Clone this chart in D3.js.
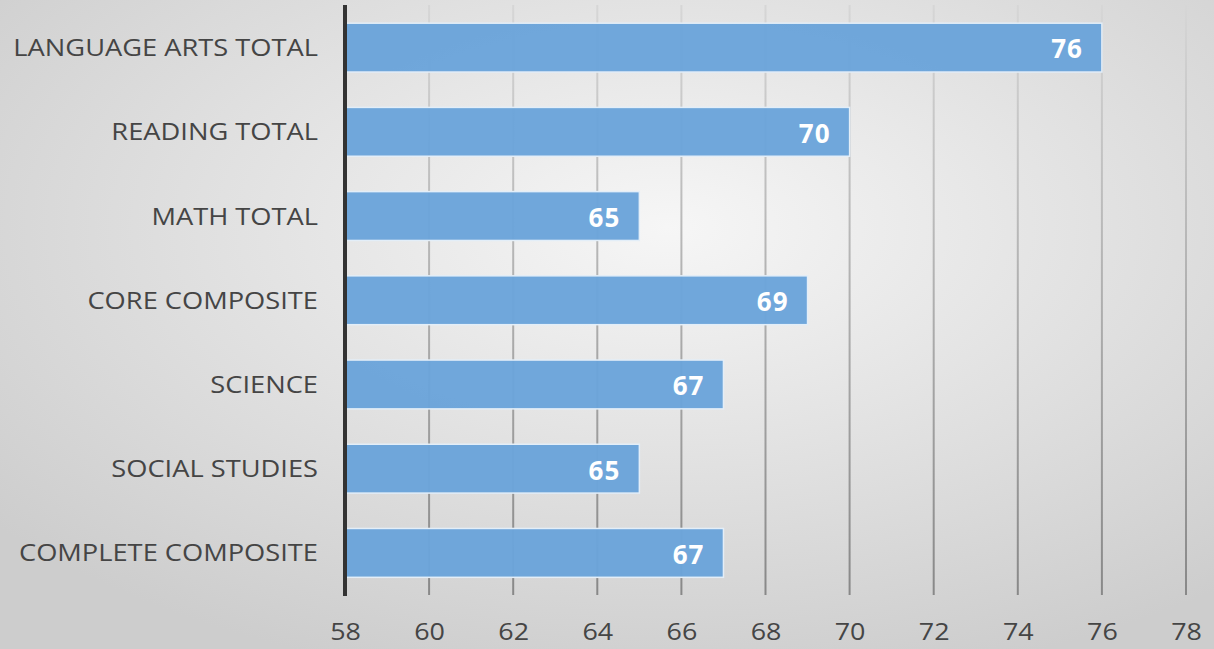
<!DOCTYPE html>
<html><head><meta charset="utf-8">
<script src="https://cdn.jsdelivr.net/npm/d3@7"></script>
<style>html,body{margin:0;padding:0;overflow:hidden;}</style>
</head><body>
<svg id="c" width="1214" height="649"></svg>
<script>
const categories = ["LANGUAGE ARTS TOTAL","READING TOTAL","MATH TOTAL","CORE COMPOSITE","SCIENCE","SOCIAL STUDIES","COMPLETE COMPOSITE"];
const values = [76,70,65,69,67,65,67];
const tickValues = [58,60,62,64,66,68,70,72,74,76,78];

const svg = d3.select("#c");
const W = 1214, H = 649;
const defs = svg.append("defs");
const bg = defs.append("radialGradient").attr("id","bg").attr("cx","55%").attr("cy","35%").attr("r","72%");
bg.append("stop").attr("offset","0%").attr("stop-color","#f6f6f6");
bg.append("stop").attr("offset","100%").attr("stop-color","#cdcdcd");
svg.append("rect").attr("width",W).attr("height",H).attr("fill","url(#bg)");

const gg = defs.append("linearGradient").attr("id","gridg").attr("gradientUnits","userSpaceOnUse")
  .attr("x1",0).attr("y1",5).attr("x2",0).attr("y2",595);
gg.append("stop").attr("offset","0%").attr("stop-color","#d6d6d6");
gg.append("stop").attr("offset","100%").attr("stop-color","#888888");

const x = d3.scaleLinear().domain([58,78]).range([345,1186]);
const y = d3.scaleBand().domain(categories).range([5.5,595]).paddingInner(0.42).paddingOuter(0.21);

const font = "'Open Sans', 'DejaVu Sans', sans-serif";

// gridlines
svg.append("g").selectAll("line").data(tickValues.slice(1)).join("line")
  .attr("x1",d=>x(d)).attr("x2",d=>x(d)).attr("y1",5).attr("y2",595)
  .attr("stroke","url(#gridg)").attr("stroke-width",2);

// bars
svg.append("g").selectAll("rect").data(values).join("rect")
  .attr("x",x(58)).attr("y",(d,i)=>y(categories[i]))
  .attr("width",d=>x(d)-x(58)).attr("height",y.bandwidth())
  .attr("fill","#6ba4da").attr("fill-opacity",0.97)
  .attr("stroke","#e3eef8").attr("stroke-width",1.5);

// value labels
svg.append("g").selectAll("text").data(values).join("text")
  .attr("x",d=>x(d)-19).attr("y",(d,i)=>y(categories[i])+y.bandwidth()/2+1.5)
  .attr("dy","0.36em").attr("text-anchor","end")
  .attr("fill","#ffffff").attr("font-weight","bold").attr("font-size","26px")
  .attr("letter-spacing","1px")
  .attr("font-family",font).text(d=>d);

// y axis
const sx = 1.16;
const ya = svg.append("g").attr("transform",`translate(${x(58)},0)`)
  .call(d3.axisLeft(y).tickSize(0).tickPadding(27));
ya.select(".domain").remove();
ya.selectAll("text").attr("font-size","23.5px").attr("font-family",font).attr("fill","#454545")
  .attr("x",-27/sx).attr("dy","0.36em").attr("transform",`scale(${sx},1)`);
svg.append("line").attr("x1",x(58)).attr("x2",x(58)).attr("y1",5).attr("y2",596)
  .attr("stroke","#333333").attr("stroke-width",4);

// x axis
const tx = 1.12;
const xa = svg.append("g").attr("transform","translate(0,615)")
  .call(d3.axisBottom(x).tickValues(tickValues).tickSize(0).tickPadding(8));
xa.select(".domain").remove();
xa.selectAll("text").attr("font-size","24px").attr("font-family",font).attr("fill","#454545")
  .attr("transform",`scale(${tx},1)`);
</script>
</body></html>
